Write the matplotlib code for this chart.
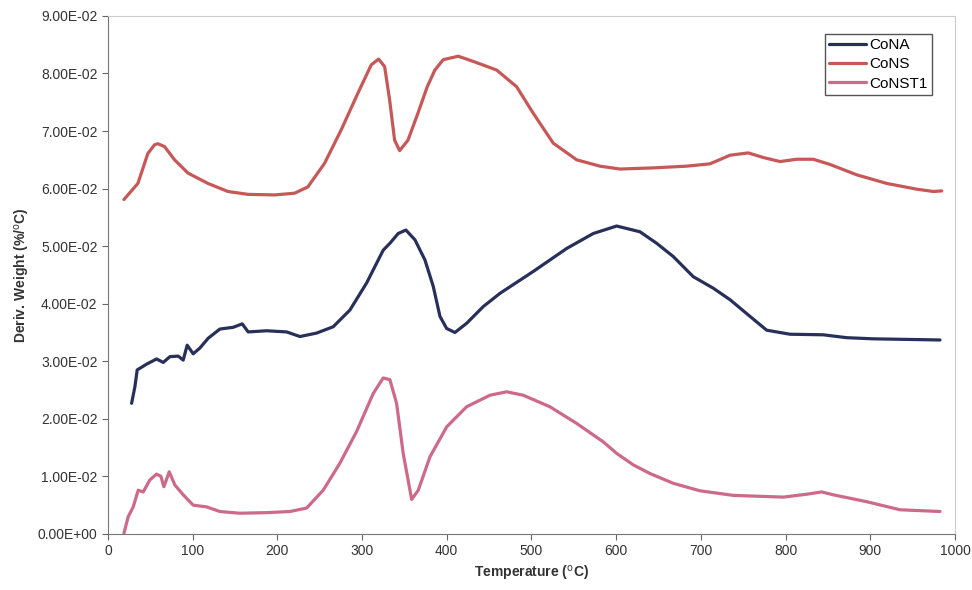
import matplotlib.pyplot as plt
from matplotlib.ticker import FuncFormatter

plt.rcParams.update({
    "font.family": "Liberation Sans",
    "font.size": 10,
})

# CoNA
t_cona = [28.0, 31.9, 34.6, 45.7, 57.5, 65.3, 73.2, 83.0, 88.9, 93.6, 100.7, 108.6, 118.4,
          132.2, 147.9, 158.6, 165.6, 187.4, 211.0, 226.7, 246.4, 266.0, 285.7, 305.4,
          325.0, 332.9, 342.7, 351.8, 362.5, 374.3, 384.1, 392.0, 399.9, 409.7, 423.5,
          443.1, 462.8, 502.1, 541.6, 573.0, 600.6, 628.1, 647.8, 667.4, 691.0, 714.6,
          734.4, 758.0, 777.7, 805.2, 844.5, 872.1, 903.5, 943.0, 982.3]
y_cona = [0.0227, 0.0256, 0.0285, 0.0295, 0.0304, 0.0298, 0.0308, 0.0309, 0.0302, 0.0328,
          0.0313, 0.0323, 0.0340, 0.0356, 0.0359, 0.0365, 0.0351, 0.0353, 0.0351, 0.0343,
          0.0349, 0.0360, 0.0389, 0.0436, 0.0493, 0.0505, 0.0522, 0.0528, 0.0511, 0.0476,
          0.0430, 0.0378, 0.0357, 0.0350, 0.0366, 0.0395, 0.0418, 0.0456, 0.0496, 0.0522,
          0.0535, 0.0525, 0.0505, 0.0482, 0.0447, 0.0427, 0.0407, 0.0378, 0.0354, 0.0347,
          0.0346, 0.0341, 0.0339, 0.0338, 0.0337]

# CoNS
t_cons = [18.9, 35.4, 47.2, 55.0, 59.0, 66.9, 78.7, 94.5, 118.1, 141.7, 165.3, 196.8, 220.4,
          236.1, 255.8, 275.4, 295.2, 310.9, 319.6, 326.7, 332.6, 338.5, 344.4, 354.2,
          366.0, 377.0, 386.0, 395.9, 413.6, 431.3, 458.9, 482.5, 502.1, 525.7, 553.4,
          580.9, 604.5, 643.8, 683.2, 710.7, 734.4, 756.0, 773.7, 793.4, 813.1, 832.7,
          852.4, 883.9, 919.4, 954.8, 974.4, 984.3]
y_cons = [0.0581, 0.0609, 0.0661, 0.0676, 0.0678, 0.0673, 0.0650, 0.0627, 0.0609, 0.0595,
          0.0590, 0.0589, 0.0592, 0.0603, 0.0644, 0.0702, 0.0766, 0.0815, 0.0825, 0.0812,
          0.0754, 0.0684, 0.0666, 0.0684, 0.0731, 0.0777, 0.0806, 0.0824, 0.0830, 0.0821,
          0.0806, 0.0777, 0.0731, 0.0679, 0.0650, 0.0639, 0.0634, 0.0636, 0.0639, 0.0643,
          0.0658, 0.0662, 0.0654, 0.0647, 0.0651, 0.0651, 0.0642, 0.0624, 0.0609, 0.0599,
          0.0595, 0.0596]

# CoNST1
t_const1 = [18.9, 24.0, 29.9, 35.8, 41.7, 49.6, 57.5, 62.6, 66.1, 72.4, 79.1, 88.9, 100.7,
            116.5, 132.2, 155.8, 187.4, 214.9, 234.6, 254.2, 273.9, 293.6, 313.2, 325.0,
            332.9, 340.8, 348.6, 358.6, 366.4, 380.2, 399.9, 423.5, 451.0, 470.7, 490.3,
            521.8, 553.4, 584.8, 600.6, 620.2, 639.9, 667.4, 698.9, 738.3, 797.3, 824.9,
            842.6, 856.3, 895.8, 935.1, 982.3]
y_const1 = [0.0001, 0.0030, 0.0047, 0.0076, 0.0073, 0.0094, 0.0104, 0.0100, 0.0082, 0.0108,
            0.0085, 0.0068, 0.0050, 0.0047, 0.0039, 0.0036, 0.0037, 0.0039, 0.0045, 0.0076,
            0.0123, 0.0178, 0.0244, 0.0271, 0.0268, 0.0227, 0.0140, 0.0060, 0.0076, 0.0134,
            0.0186, 0.0221, 0.0241, 0.0247, 0.0241, 0.0221, 0.0192, 0.0160, 0.0140, 0.0120,
            0.0105, 0.0088, 0.0075, 0.0067, 0.0064, 0.0069, 0.0073, 0.0068, 0.0056, 0.0042,
            0.0039]

fig = plt.figure(figsize=(9.72, 5.9), dpi=100)
ax = fig.add_axes([0.111, 0.095, 0.8715, 0.878])

style = dict(lw=2.3, solid_joinstyle="round", solid_capstyle="round")
ax.plot(t_cona, y_cona, color="#28305a", label="CoNA", **style)
ax.plot(t_cons, y_cons, color="#c65858", label="CoNS", **style)
ax.plot(t_const1, y_const1, color="#cc6a88", label="CoNST1", **style)

ax.set_xlim(0, 1000)
ax.set_ylim(0, 0.09)
ax.set_xticks(range(0, 1001, 100))
ax.set_yticks([i * 0.01 for i in range(10)])
ax.yaxis.set_major_formatter(FuncFormatter(lambda v, p: f"{v:.2E}"))
ax.tick_params(direction="out", length=4, color="#666666", labelcolor="#333333", labelsize=10)

for s in ["top", "right"]:
    ax.spines[s].set_color("#cccccc")
for s in ["left", "bottom"]:
    ax.spines[s].set_color("#777777")

ax.set_xlabel(r"Temperature ($^{\mathrm{o}}$C)", fontweight="bold", fontsize=10, color="#333333")
ax.set_ylabel(r"Deriv. Weight (%/$^{\mathrm{o}}$C)", fontweight="bold", fontsize=10, color="#333333")

leg = ax.legend(loc="upper right", bbox_to_anchor=(0.973, 0.966), fancybox=False,
                edgecolor="#555555", framealpha=1, fontsize=11, handlelength=2.4,
                handletextpad=0.2, borderpad=0.3, labelspacing=0.35, borderaxespad=0)
leg.get_frame().set_linewidth(1)

fig.savefig("out.png", dpi=100)
